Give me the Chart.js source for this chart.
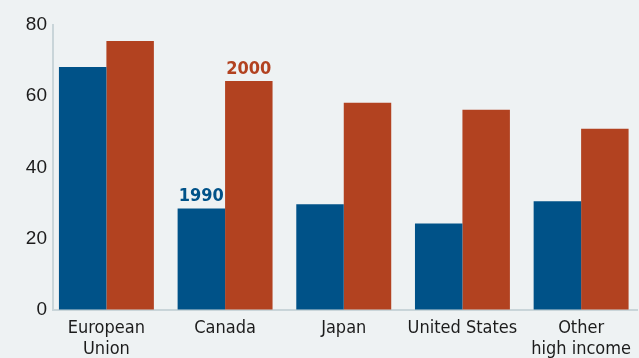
<!DOCTYPE html>
<html>
<head>
<meta charset="utf-8">
<script src="https://cdn.jsdelivr.net/npm/chart.js@4/dist/chart.umd.min.js"></script>
<style>
  html, body { margin: 0; padding: 0; background: #eef2f3; overflow: hidden; }
  #wrap { width: 639px; height: 358px; position: relative; }
</style>
</head>
<body>
<div id="wrap"><canvas id="c"></canvas></div>
<script>
// Share of population, 1990 vs 2000, by region
const categories = [['European', 'Union'], 'Canada', 'Japan', 'United States', ['Other', 'high income']];
const seriesNames = ['1990', '2000'];
const values1990 = [68.2, 28.5, 29.7, 24.3, 30.5];
const values2000 = [75.5, 64.3, 58.2, 56.2, 50.9];
const yTicks = [0, 20, 40, 60, 80];

const BLUE = '#005288';
const RED = '#b24220';
const AXIS = '#c9d5d9';

const toPoints = vals => vals.map((v, i) => ({ x: i, y: v }));

// Year labels placed above the Canada bars of each series
const yearLabels = {
  id: 'yearLabels',
  afterDatasetsDraw(chart) {
    const ctx = chart.ctx;
    ctx.save();
    ctx.font = 'bold 18px "DejaVu Sans Condensed", "DejaVu Sans", sans-serif';
    ctx.textAlign = 'center';
    ctx.textBaseline = 'bottom';
    chart.data.datasets.forEach((ds, di) => {
      const bar = chart.getDatasetMeta(di).data[1];
      ctx.fillStyle = ds.backgroundColor;
      ctx.fillText(seriesNames[di], bar.x, bar.y - 3);
    });
    ctx.restore();
  }
};

new Chart(document.getElementById('c'), {
  type: 'bar',
  data: {
    datasets: [
      { label: seriesNames[0], data: toPoints(values1990), backgroundColor: BLUE },
      { label: seriesNames[1], data: toPoints(values2000), backgroundColor: RED }
    ]
  },
  options: {
    responsive: true,
    maintainAspectRatio: false,
    animation: false,
    events: [],
    layout: { padding: { top: 25, right: 0, left: 0, bottom: 0 } },
    datasets: { bar: { categoryPercentage: 0.8, barPercentage: 1.0, borderWidth: 0 } },
    plugins: { legend: { display: false }, tooltip: { enabled: false } },
    scales: {
      x: {
        type: 'linear',
        offset: false,
        bounds: 'data',
        min: -0.45,
        max: 4.475,
        grid: { display: true, offset: false, drawOnChartArea: false, drawTicks: false },
        border: { display: true, color: AXIS, width: 2 },
        afterBuildTicks(scale) {
          scale.ticks = categories.map((_, i) => ({ value: i }));
        },
        afterFit(scale) { scale.height = 48; },
        ticks: {
          autoSkip: false,
          maxRotation: 0,
          padding: 8,
          color: '#1c1c1c',
          font: { family: '"DejaVu Sans Condensed", "DejaVu Sans", sans-serif', size: 18, lineHeight: 1.15 },
          callback: v => categories[v]
        }
      },
      y: {
        min: 0,
        max: 80,
        grid: { display: true, drawOnChartArea: false, drawTicks: false },
        border: { display: true, color: AXIS, width: 2 },
        afterBuildTicks(scale) {
          scale.ticks = yTicks.map(v => ({ value: v }));
        },
        afterFit(scale) { scale.width = 53; },
        ticks: {
          padding: 6,
          color: '#1c1c1c',
          font: { family: '"Liberation Sans", sans-serif', size: 19 }
        }
      }
    }
  },
  plugins: [yearLabels]
});
</script>
</body>
</html>
